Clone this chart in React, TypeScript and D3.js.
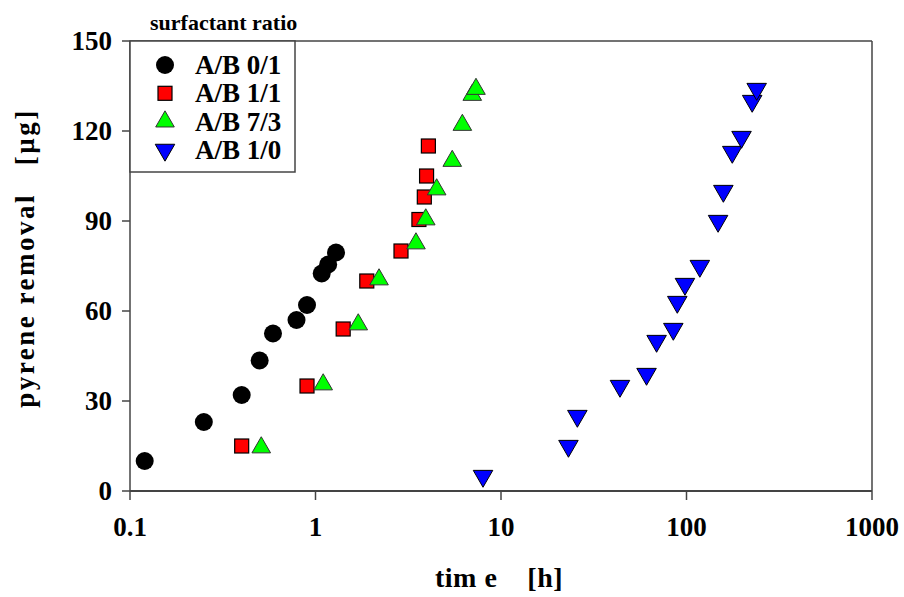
import React, { useEffect } from "react";
import * as d3 from "d3";

// values
const seriesNames = ["A/B 0/1", "A/B 1/1", "A/B 7/3", "A/B 1/0"];

const timeAB01 = [0.12, 0.25, 0.4, 0.5, 0.59, 0.79, 0.9, 1.08, 1.17, 1.29];
const removalAB01 = [10, 23, 32, 43.5, 52.5, 57, 62, 72.5, 75.5, 79.5];

const timeAB11 = [0.4, 0.9, 1.41, 1.89, 2.89, 3.61, 3.86, 3.97, 4.06];
const removalAB11 = [15, 35, 54, 70, 80, 90.5, 98, 105, 115];

const timeAB73 = [0.51, 1.1, 1.7, 2.2, 3.48, 3.93, 4.5, 5.46, 6.19, 7.0, 7.33];
const removalAB73 = [14.5, 35.5, 55.5, 70.5, 82.5, 90.5, 100.5, 110, 122, 132, 134];

const timeAB10 = [
  8.0, 23.1, 25.8, 43.8, 60.9, 69, 84.9, 89.2, 98.1, 118, 148, 158, 176.5, 198, 226,
  239,
];
const removalAB10 = [
  5, 15, 25, 35, 39, 50, 54, 63, 69, 75, 90, 100, 113, 118, 130, 134,
];

const xTicks = [0.1, 1, 10, 100, 1000];
const xTickLabels = ["0.1", "1", "10", "100", "1000"];
const yTicks = [0, 30, 60, 90, 120, 150];

const width = 904;
const height = 597;
const margin = { top: 41, right: 32, bottom: 106, left: 130 };
const txt = { fontFamily: "Liberation Serif", fontWeight: 700 } as const;

function Marker({ kind, x, y }: { kind: number; x: number; y: number }) {
  if (kind === 0) {
    return <circle cx={x} cy={y} r={9} fill="#000" />;
  }
  if (kind === 1) {
    return (
      <rect
        x={x - 7}
        y={y - 7}
        width={14}
        height={14}
        fill="#ff0000"
        stroke="#000"
        strokeWidth={1.2}
      />
    );
  }
  const sym = d3
    .symbol()
    .type(d3.symbolTriangle)
    .size(kind === 2 ? 150 : 165)();
  return (
    <path
      d={sym || ""}
      transform={`translate(${x},${y})${kind === 3 ? " rotate(180)" : ""}`}
      fill={kind === 2 ? "#00ff00" : "#0000ff"}
      stroke={kind === 2 ? "#333" : "#000"}
      strokeWidth={1}
    />
  );
}

export default function App() {
  useEffect(() => {
    document.body.style.margin = "0";
  }, []);

  const x = d3
    .scaleLog()
    .domain([0.1, 1000])
    .range([margin.left, width - margin.right]);
  const y = d3
    .scaleLinear()
    .domain([0, 150])
    .range([height - margin.bottom, margin.top]);

  const series = [
    { t: timeAB01, v: removalAB01 },
    { t: timeAB11, v: removalAB11 },
    { t: timeAB73, v: removalAB73 },
    { t: timeAB10, v: removalAB10 },
  ];

  const x0 = margin.left;
  const x1 = width - margin.right;
  const y0 = height - margin.bottom;
  const y1 = margin.top;

  return (
    <svg
      width={width}
      height={height}
      style={{ display: "block", background: "#fff" }}
    >
      {/* frame */}
      <line x1={x0} x2={x1} y1={y1} y2={y1} stroke="#444" strokeWidth={1.5} />
      <line x1={x1} x2={x1} y1={y1} y2={y0} stroke="#444" strokeWidth={1.5} />
      <line x1={x0} x2={x0} y1={y1} y2={y0} stroke="#444" strokeWidth={1.5} />
      <line x1={x0} x2={x1} y1={y0} y2={y0} stroke="#444" strokeWidth={2} />

      {/* y ticks */}
      {yTicks.map((t) => (
        <g key={t}>
          <line x1={x0 - 8} x2={x0} y1={y(t)} y2={y(t)} stroke="#444" strokeWidth={1.5} />
          <text x={x0 - 18} y={y(t) + 9} textAnchor="end" fontSize={27} style={txt}>
            {t}
          </text>
        </g>
      ))}

      {/* x ticks */}
      {xTicks.map((t, i) => (
        <g key={t}>
          <line x1={x(t)} x2={x(t)} y1={y0} y2={y0 + 9} stroke="#444" strokeWidth={1.5} />
          <text x={x(t)} y={y0 + 45} textAnchor="middle" fontSize={27} style={txt}>
            {xTickLabels[i]}
          </text>
        </g>
      ))}

      {/* data */}
      {series.map((s, k) =>
        s.t.map((t, i) => <Marker key={`${k}-${i}`} kind={k} x={x(t)} y={y(s.v[i])} />)
      )}

      {/* legend */}
      <rect
        x={x0}
        y={y1}
        width={165}
        height={131}
        fill="#fff"
        stroke="#444"
        strokeWidth={1.5}
      />
      {seriesNames.map((name, i) => (
        <g key={name}>
          <Marker kind={i} x={165} y={65 + i * 28.3} />
          <text x={195} y={65 + i * 28.3 + 9} fontSize={27} style={txt}>
            {name}
          </text>
        </g>
      ))}
      <text x={150} y={30} fontSize={22} style={txt}>
        surfactant ratio
      </text>

      {/* axis titles */}
      <text
        x={499}
        y={587}
        textAnchor="middle"
        fontSize={28}
        letterSpacing={0.5}
        style={{ ...txt, whiteSpace: "pre" }}
      >
        {"tim e    [h]"}
      </text>
      <text
        transform={`translate(34,258) rotate(-90)`}
        textAnchor="middle"
        fontSize={27}
        letterSpacing={2.5}
        style={{ ...txt, whiteSpace: "pre" }}
      >
        {"pyrene removal   [µg]"}
      </text>
    </svg>
  );
}
